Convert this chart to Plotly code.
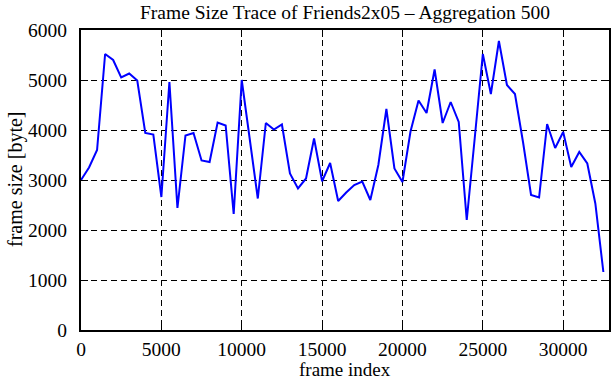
import plotly.graph_objects as go

frame_index = list(range(0, 33000, 500))
frame_size = [
    3000, 3250, 3600, 5520, 5400, 5050, 5130, 4990, 3940, 3910,
    2660, 4960, 2440, 3890, 3940, 3390, 3360, 4150, 4090, 2320,
    5000, 3820, 2630, 4140, 4010, 4110, 3130, 2830, 3030, 3830,
    2975, 3340, 2580, 2750, 2900, 2970, 2600, 3300, 4420, 3230,
    2960, 3970, 4590, 4340, 5210, 4140, 4560, 4160, 2200, 3850,
    5520, 4720, 5780, 4900, 4720, 3760, 2700, 2650, 4120, 3640,
    3960, 3260, 3560, 3330, 2530, 1160,
]
x_ticks = [0, 5000, 10000, 15000, 20000, 25000, 30000]
y_ticks = [0, 1000, 2000, 3000, 4000, 5000, 6000]

title_text = "Frame Size Trace of Friends2x05 \u2013 Aggregation 500"
x_title = "frame index"
y_title = "frame size [byte]"

FONT = "Liberation Serif, Times New Roman, serif"

fig = go.Figure()
fig.add_trace(go.Scatter(
    x=frame_index, y=frame_size, mode="lines",
    line=dict(color="#0000ff", width=2),
    showlegend=False,
))

axis_common = dict(
    showgrid=True, gridcolor="black", gridwidth=1, griddash="6px,4px",
    showline=True, linecolor="black", linewidth=2, mirror="ticks",
    ticks="inside", ticklen=7, tickcolor="black", tickwidth=1,
    zeroline=False, automargin=False,
    tickfont=dict(family=FONT, size=19.5, color="black"),
)

fig.update_layout(
    width=611, height=380,
    margin=dict(l=81, r=2, t=30, b=50, autoexpand=False),
    paper_bgcolor="white", plot_bgcolor="white",
    font=dict(family=FONT, size=19.5, color="black"),
    title=dict(text=title_text, x=0.5, xref="paper", xanchor="center",
               y=1 - 12 / 380, yanchor="middle", yref="container",
               automargin=False,
               font=dict(family=FONT, size=19.5, color="black")),
    xaxis=dict(range=[0, 32850], tickvals=x_ticks,
               ticktext=[str(v) for v in x_ticks],
               ticklabelstandoff=1,
               **axis_common),
    yaxis=dict(range=[0, 6000], tickvals=y_ticks,
               ticktext=[str(v) for v in y_ticks],
               ticklabelstandoff=8,
               **axis_common),
    annotations=[
        dict(text=x_title, xref="paper", yref="paper", x=0.5, y=-39.5 / 300,
             xanchor="center", yanchor="middle", showarrow=False,
             borderpad=0,
             font=dict(family=FONT, size=19, color="black")),
        dict(text=y_title, xref="paper", yref="paper", x=-66 / 528, y=0.5,
             xanchor="center", yanchor="middle", textangle=-90,
             showarrow=False,
             font=dict(family=FONT, size=20, color="black")),
    ],
)

fig.write_html(
    "out.html",
    config={"displayModeBar": False},
    post_script="document.body.style.margin='0';document.body.style.overflow='hidden';",
)
